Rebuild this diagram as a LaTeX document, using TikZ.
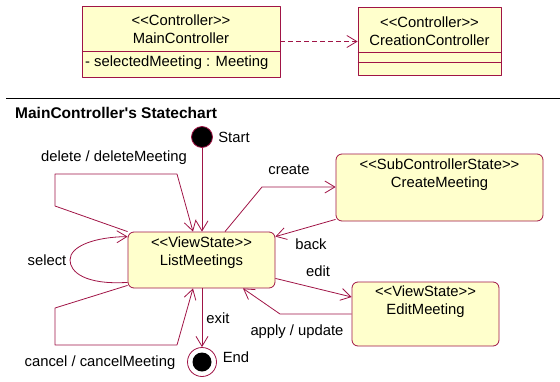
\documentclass[tikz,border=0pt]{standalone}
\usepackage{fontspec}
\setmainfont{Liberation Sans}
\usetikzlibrary{arrows.meta}
\definecolor{umlred}{RGB}{160,20,70}
\definecolor{umlfill}{RGB}{255,255,204}
\newcommand\stereo[1]{<\kern0pt<#1>\kern0pt>}
\begin{document}
\begin{tikzpicture}[x=1pt, y=-1pt, line join=round,
	font=\fontsize{14.8}{18}\selectfont,
	>={Straight Barb[length=10pt,width=12pt]},
	classbox/.style={draw=umlred, fill=umlfill, line width=.8pt, inner sep=0pt},
	statebox/.style={classbox, rounded corners=6pt},
	trans/.style={draw=umlred, line width=.8pt, ->},
	lbl/.style={inner sep=0pt, align=center}]
	\useasboundingbox (0,0) rectangle (560,381);
	% class diagram
	\node[classbox, minimum width=198pt, minimum height=71pt] (main) at (181,41.5) {};
	\node[classbox, minimum width=143pt, minimum height=68pt] (creation) at (429.5,41) {};
	\draw[umlred, line width=.8pt] (main.west |- 0,51) -- (main.east |- 0,51)
	(creation.west |- 0,52) -- (creation.east |- 0,52)
	(creation.west |- 0,62) -- (creation.east |- 0,62);
	\node[lbl] (mainname) at (181,29) {\stereo{Controller}\\MainController};
	\node[lbl, anchor=west] (mainattr) at (85,63) {- selectedMeeting : Meeting};
	\node[lbl] (creationname) at (429.5,31) {\stereo{Controller}\\CreationController};
	\draw[trans, dash pattern=on 5pt off 3pt] (main.east) -- (main.east -| creation.west);
	% statechart
	\draw[line width=1pt] (6,98) -- (560,98);
	\node[lbl, anchor=west, font=\fontsize{15.5}{18}\selectfont\bfseries] (title) at (15,113)
	{MainController\textquotesingle s Statechart};
	\node[circle, fill=black, draw=umlred, line width=.8pt, minimum size=21pt, inner sep=0pt] (start) at (202,137) {};
	\node[statebox, minimum width=147pt, minimum height=56pt] (list) at (201.5,260) {};
	\node[statebox, minimum width=207pt, minimum height=67pt] (create) at (439.5,187.5) {};
	\node[statebox, minimum width=147pt, minimum height=64pt] (edit) at (425.5,314) {};
	\node[circle, draw=umlred, fill=white, line width=.8pt, minimum size=29pt, inner sep=0pt] (end) at (202,362) {};
	\fill (end) circle (9.5);
	\node[lbl] (listname) at (201.5,252.5) {\stereo{ViewState}\\ListMeetings};
	\node[lbl] (createname) at (439.5,174.5) {\stereo{SubControllerState}\\CreateMeeting};
	\node[lbl] (editname) at (425.5,302) {\stereo{ViewState}\\EditMeeting};
	\node[lbl] (startlbl) at (234,137) {Start};
	\node[lbl] (endlbl) at (236,357) {End};
	\node[lbl] (deletelbl) at (114,158) {delete / deleteMeeting};
	\node[lbl] (createlbl) at (289,170) {create};
	\node[lbl] (backlbl) at (311,244) {back};
	\node[lbl] (selectlbl) at (47,260) {select};
	\node[lbl] (editlbl) at (318,271) {edit};
	\node[lbl] (exitlbl) at (218,318) {exit};
	\node[lbl] (applylbl) at (297,332) {apply / update};
	\node[lbl] (cancellbl) at (100,363) {cancel / cancelMeeting};
	\path
	(55,206) coordinate (d1) (55,174) coordinate (d2) (177,174) coordinate (d3)
	(55,308) coordinate (c1) (55,345) coordinate (c2) (177,345) coordinate (c3)
	(262,187) coordinate (k1) (280,314) coordinate (a1);
	\draw[trans] (start) -- (start |- list.north);
	\draw[trans] (list.north west) -- (d1) -- (d2) -- (d3) -- ([xshift=-8.5pt]list.north);
	\draw[trans] ([yshift=3pt]list.south west) -- (c1) -- (c2) -- (c3) -- ([xshift=-8.5pt]list.south);
	\draw[trans] ([yshift=6pt]list.south west) .. controls (85,285) and (70,272) .. (70,260)
	.. controls (70,246) and (95,237) .. ([yshift=-5pt]list.north west);
	\draw[trans] ([xshift=23.5pt]list.north) -- (k1) -- (k1 -| create.west);
	\draw[trans] ([yshift=2pt]create.south west) -- ([yshift=-5pt]list.north east);
	\draw[trans] ([yshift=10pt]list.south east) -- ([yshift=17pt]edit.west);
	\draw[trans] (edit.west) -- (a1) -- ([xshift=41.5pt]list.south);
	\draw[trans] (list.south -| end) -- (end);
\end{tikzpicture}
\end{document}
